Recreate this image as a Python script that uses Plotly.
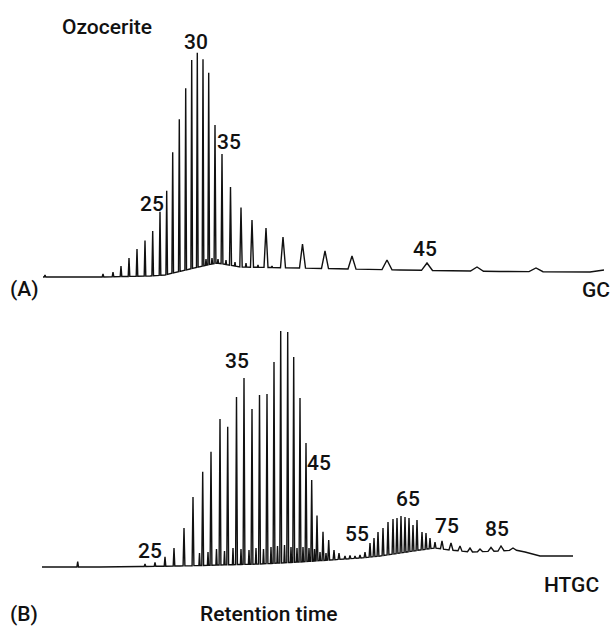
import numpy as np
import plotly.graph_objects as go

# ---------------- Panel A : GC of ozocerite ----------------
# retention position (arbitrary units) and detector response (arbitrary units)
gc_base_t = [43, 100, 150, 165, 173, 190, 207, 217, 240, 300, 400, 500, 590, 604]
gc_base_r = [0, 0, 1, 2, 4, 8, 12, 14, 10, 9, 7, 5.5, 5, 7]

gc_peak_t = [45, 103, 113, 121, 129, 137, 145, 152.7, 160, 166.7, 172.7, 179.3,
             185.7, 191.7, 197.3, 203, 208.7, 215, 222, 230.5, 241, 252, 266,
             283, 302.5, 325, 352, 387, 427, 477, 536]
gc_peak_r = [2, 3, 5, 11, 19, 28, 36.5, 46, 65.3, 86.3, 124.7, 157.7, 188.7,
             217, 224.3, 217.7, 204.3, 152, 123, 90, 69.5, 57, 49, 40, 33,
             26, 21, 17, 14, 10, 9]
gc_peak_w = [0.8] * 17 + [0.9, 0.9, 1.0, 1.2, 1.5, 2, 2.5, 3, 3.5, 4, 5, 5.5, 6.5, 7]

# minor (branched / cyclic) components between the n-alkanes
gc_minor_t = [206, 212, 218, 226, 235, 246, 258, 272]
gc_minor_r = [18, 19, 18, 17, 15, 14, 12, 11]
gc_minor_w = [0.6] * 8

gc_labels = ["25", "30", "35", "45"]
gc_label_t = [152, 196, 229, 425]
gc_label_r = [73, 235, 135, 28]

# ---------------- Panel B : HTGC of ozocerite ----------------
ht_base_t = [42, 100, 140, 180, 220, 260, 300, 330, 345, 360, 380, 400, 420,
             435, 450, 470, 500, 515, 525, 540, 573]
ht_base_r = [0, 0, 0.5, 1, 2, 3, 5, 7, 8, 9, 11, 14, 17, 19, 17, 15, 16, 17,
             15, 11, 11]

ht_peak_t = [77.7, 145, 155, 165, 174, 184, 193, 202.7, 211, 220, 227.7, 236.5,
             244, 252, 259.5, 267, 274, 280.7, 287.7, 293.7, 300, 306, 311.7,
             317, 323, 328.7, 334, 339, 345, 350, 355, 360, 365,
             370, 374, 378, 383, 388, 393, 397, 401, 405, 409, 413, 417, 422,
             426, 430, 435, 442, 451, 460, 470, 480, 491, 501, 513]
ht_peak_r = [5.3, 3, 4.5, 10.3, 19, 39, 70, 95.3, 115.3, 148, 140.3, 170, 189,
             158, 172, 173, 205, 236, 235, 210, 169, 124, 87, 51.5, 35.3, 27,
             17, 14, 11, 11.5, 11, 12, 15,
             24, 29, 35, 39, 45, 48, 49, 51, 50, 49, 42, 47, 35,
             34, 29, 25, 26, 24, 21, 19, 18, 19.5, 21, 19]
ht_peak_w = [0.8] * 5 + [0.9] * 28 + [0.9] * 15 + [1, 1.5, 2, 2, 2.5, 2.5, 3, 3, 3.5]

ht_minor_t = [199.5, 208, 216.5, 224.5, 233, 241, 249, 256, 263.5, 271, 277.5,
              284.5, 291, 297, 303, 309, 314.5, 320, 326]
ht_minor_r = [14, 15, 18, 16, 19, 18, 17, 19, 18, 20, 21, 22, 20, 19, 20, 19,
              18, 15, 14]
ht_minor_w = [0.6] * 19

ht_labels = ["25", "35", "45", "55", "65", "75", "85"]
ht_label_t = [150, 237, 319, 357, 408, 447, 497]
ht_label_r = [16, 206, 104, 33, 68, 41, 38]


def chromatogram(bt, br, pts, prs, pws):
    """Join baseline anchors and triangular peaks into one trace."""
    pts_all = []
    for t, r in zip(bt, br):
        if not any(p - w <= t <= p + w for p, w in zip(pts, pws)):
            pts_all.append((t, r))
    for p, r, w in zip(pts, prs, pws):
        pts_all.append((p - w, float(np.interp(p - w, bt, br))))
        pts_all.append((p, r))
        pts_all.append((p + w, float(np.interp(p + w, bt, br))))
    pts_all.sort(key=lambda q: q[0])
    return [q[0] for q in pts_all], [q[1] for q in pts_all]


ax, ay = chromatogram(gc_base_t, gc_base_r,
                      gc_peak_t + gc_minor_t, gc_peak_r + gc_minor_r,
                      gc_peak_w + gc_minor_w)
bx, by = chromatogram(ht_base_t, ht_base_r,
                      ht_peak_t + ht_minor_t, ht_peak_r + ht_minor_r,
                      ht_peak_w + ht_minor_w)

LINE = dict(color="#111111", width=1.4, simplify=False)

fig = go.Figure()
fig.add_trace(go.Scatter(x=ax, y=ay, mode="lines", line=LINE,
                         xaxis="x", yaxis="y", hoverinfo="skip"))
fig.add_trace(go.Scatter(x=bx, y=by, mode="lines", line=LINE,
                         xaxis="x", yaxis="y2", hoverinfo="skip"))

FONT = dict(family="Roboto, Liberation Sans, Arial, sans-serif", size=21,
            color="#111111", weight=500)

ann = []
for txt, t, r in zip(gc_labels, gc_label_t, gc_label_r):
    ann.append(dict(text=txt, x=t, y=r, xref="x", yref="y"))
for txt, t, r in zip(ht_labels, ht_label_t, ht_label_r):
    ann.append(dict(text=txt, x=t, y=r, xref="x", yref="y2"))
ann += [
    dict(text="Ozocerite", x=107, y=250, xref="x", yref="y"),
    dict(text="(A)", x=24, y=-12, xref="x", yref="y"),
    dict(text="GC", x=596, y=-12.5, xref="x", yref="y"),
    dict(text="HTGC", x=571, y=-17.5, xref="x", yref="y2"),
    dict(text="(B)", x=24, y=-47, xref="x", yref="y2"),
    dict(text="Retention time", x=268, y=-47, xref="x", yref="y2"),
]
for a in ann:
    a.update(showarrow=False, font=FONT, xanchor="center", yanchor="middle")

split = 327 / 627
fig.update_layout(
    width=611, height=627, autosize=False,
    margin=dict(l=0, r=0, t=0, b=0),
    paper_bgcolor="white", plot_bgcolor="white",
    showlegend=False,
    xaxis=dict(range=[0, 611], visible=False, fixedrange=True),
    yaxis=dict(range=[-23, 277], domain=[split, 1], visible=False, fixedrange=True),
    yaxis2=dict(range=[-60, 267], domain=[0, split], anchor="x", visible=False,
                fixedrange=True),
    annotations=ann,
)

fig.write_html("out.html", config={"displayModeBar": False})
